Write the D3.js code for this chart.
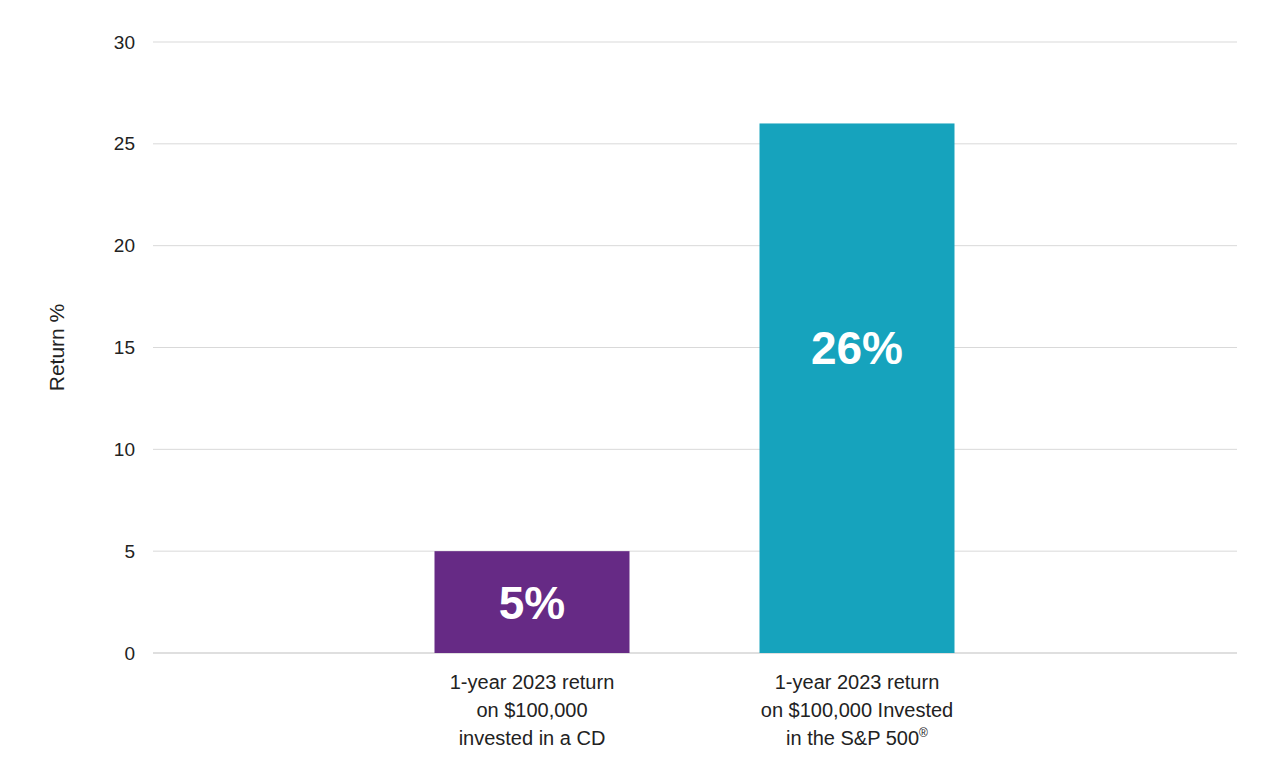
<!DOCTYPE html>
<html><head><meta charset="utf-8">
<script src="https://cdn.jsdelivr.net/npm/d3@7"></script>
<style>body{margin:0;background:#fff;font-family:"Liberation Sans",Arial,sans-serif}</style>
</head><body><svg id="chart"></svg>
<script>
const categories = ["cd", "sp"];
const values = [5, 26];
const valueLabels = ["5%", "26%"];
const catLines = [
  ["1-year 2023 return", "on $100,000", "invested in a CD"],
  ["1-year 2023 return", "on $100,000 Invested", "in the S&P 500®"]
];
const colors = ["#662a85", "#16a3bd"];
const yTicks = [0, 5, 10, 15, 20, 25, 30];

const W = 1280, H = 779;
const svg = d3.select("#chart").attr("width", W).attr("height", H);
const x = d3.scaleBand().domain(categories).range([369.5, 1019.5]).paddingInner(0.4).paddingOuter(0.2);
const y = d3.scaleLinear().domain([0, 30]).range([653, 42]);
const left = 153, right = 1237;

// gridlines
svg.append("g").selectAll("line").data(yTicks).enter().append("line")
  .attr("x1", left).attr("x2", right)
  .attr("y1", d => y(d)).attr("y2", d => y(d))
  .attr("stroke", d => d === 0 ? "#bfbfbf" : "#d9d9d9").attr("stroke-width", 1);

svg.append("g").selectAll("text").data(yTicks).enter().append("text")
  .attr("x", 135).attr("y", d => y(d)).attr("dy", "0.35em")
  .attr("text-anchor", "end").attr("font-size", 19).attr("fill", "#222")
  .text(d => d);

svg.append("text").attr("transform", `translate(64,${y(15)}) rotate(-90)`)
  .attr("text-anchor", "middle").attr("font-size", 21).attr("fill", "#222")
  .text("Return %");

categories.forEach((c, i) => {
  svg.append("rect").attr("x", x(c)).attr("width", x.bandwidth())
    .attr("y", y(values[i])).attr("height", y(0) - y(values[i]))
    .attr("fill", colors[i]);
  const ly = i === 0 ? (y(values[i]) + y(0)) / 2 : y(15);
  svg.append("text").attr("x", x(c) + x.bandwidth() / 2).attr("y", ly).attr("dy", "0.36em")
    .attr("text-anchor", "middle").attr("font-size", 46).attr("font-weight", "bold")
    .attr("fill", "#fff").text(valueLabels[i]);
  catLines[i].forEach((t, j) => {
    const tx = svg.append("text").attr("x", x(c) + x.bandwidth() / 2).attr("y", 689 + j * 28)
      .attr("text-anchor", "middle").attr("font-size", 20).attr("fill", "#222");
    if (t.endsWith("®")) {
      tx.append("tspan").text(t.slice(0, -1));
      tx.append("tspan").attr("font-size", 12).attr("dy", -8).text("®");
    } else tx.text(t);
  });
});
</script></body></html>
